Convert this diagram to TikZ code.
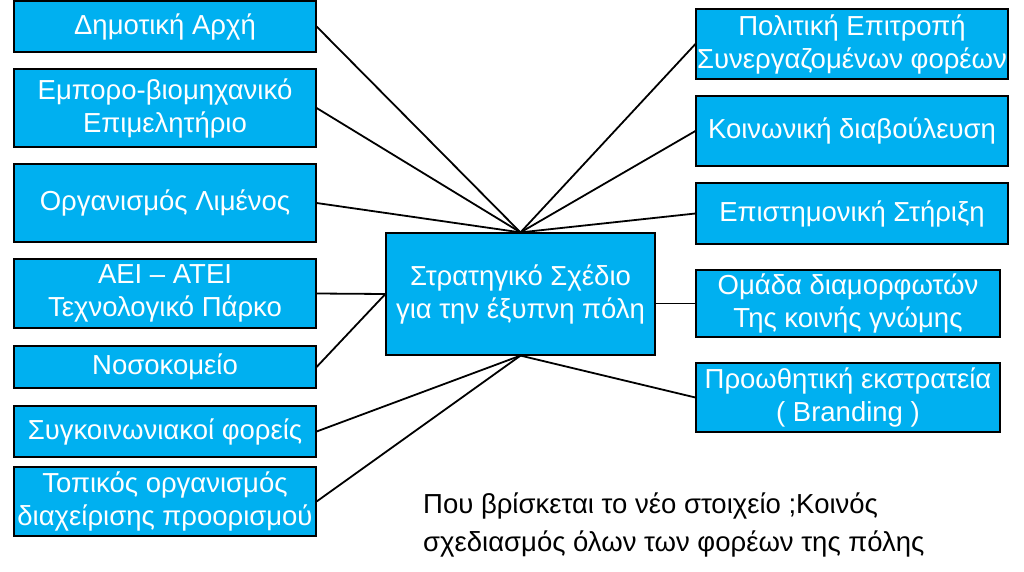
\documentclass[tikz,border=0pt]{standalone}
\usepackage{fontspec}
\setmainfont{Liberation Sans}
\definecolor{boxcyan}{RGB}{0,176,240}
\begin{document}
\begin{tikzpicture}[x=1pt,y=-1pt,
  box/.style={draw=black, line width=1.2pt, fill=boxcyan, text=white, inner sep=0pt,
    align=center, font=\fontsize{27.5}{33}\selectfont},
  link/.style={line width=1.8pt, black}]
\useasboundingbox (0,0) rectangle (1024,572);
% left column
\node[box, minimum width=302, minimum height=51] (L1) at (165,26.5) {Δημοτική Αρχή};
\node[box, minimum width=302, minimum height=78] (L2) at (165,108) {Εμπορο-βιομηχανικό\\Επιμελητήριο};
\node[box, minimum width=302, minimum height=78] (L3) at (165,203) {Οργανισμός Λιμένος};
\node[box, minimum width=302, minimum height=69] (L4) at (165,293.5) {ΑΕΙ – ΑΤΕΙ\\Τεχνολογικό Πάρκο};
\node[box, minimum width=302, minimum height=42] (L5) at (165,367) {Νοσοκομείο};
\node[box, minimum width=302, minimum height=51] (L6) at (165,431.5) {Συγκοινωνιακοί φορείς};
\node[box, minimum width=302, minimum height=69] (L7) at (165,501.5) {Τοπικός οργανισμός\\διαχείρισης προορισμού};
% centre
\node[box, minimum width=269, minimum height=122] (C) at (520.5,294) {Στρατηγικό Σχέδιο\\για την έξυπνη πόλη};
% right column
\node[box, minimum width=312, minimum height=70] (R1) at (852,44) {Πολιτική Επιτροπή\\Συνεργαζομένων φορέων};
\node[box, minimum width=312, minimum height=70] (R2) at (852,131) {Κοινωνική διαβούλευση};
\node[box, minimum width=312, minimum height=61] (R3) at (852,213.5) {Επιστημονική Στήριξη};
\node[box, minimum width=304, minimum height=67] (R4) at (848,303.5) {Ομάδα διαμορφωτών\\Της κοινής γνώμης};
\node[box, minimum width=304, minimum height=69] (R5) at (848,397.5) {Προωθητική εκστρατεία\\( Branding )};
% note
\node[anchor=base west, align=left, inner sep=0pt, font=\fontsize{27.5}{38}\selectfont] (N) at (423,551)
  {Που βρίσκεται το νέο στοιχείο ;Κοινός\\σχεδιασμός όλων των φορέων της πόλης};
% connectors
\draw[link] (L1.east) -- (C.north);
\draw[link] (L2.east) -- (C.north);
\draw[link] (L3.east) -- (C.north);
\draw[link] (L4.east) -- (C.west);
\draw[link] (L5.east) -- (C.west);
\draw[link] (L6.east) -- (C.south);
\draw[link] (L7.east) -- (C.south);
\draw[link] (R1.west) -- (C.north);
\draw[link] (R2.west) -- (C.north);
\draw[link] (R3.west) -- (C.north);
\draw[link] (R4.west) -- (R4.west -| C.east);
\draw[link] (R5.west) -- (C.south);
\end{tikzpicture}
\end{document}
